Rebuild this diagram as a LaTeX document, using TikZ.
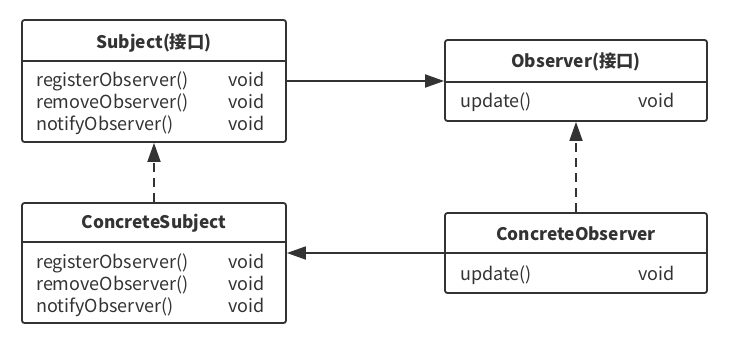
\documentclass[tikz,border=0pt]{standalone}
\usepackage{fontspec}
\setmainfont{Noto Sans CJK SC}
\usetikzlibrary{arrows.meta}
\definecolor{umlgray}{HTML}{333333}
\tikzset{
  cls/.style={draw=umlgray,line width=1.8pt,rounded corners=2.5pt,inner sep=0pt},
  sep/.style={draw=umlgray,line width=1.8pt},
  ttl/.style={anchor=base,inner sep=0pt,text=umlgray,font=\bfseries\fontsize{17.3}{20}\selectfont},
  mth/.style={anchor=base west,inner sep=0pt,text=umlgray,font=\fontsize{18}{20}\selectfont},
  assoc/.style={draw=umlgray,line width=1.8pt,-{Triangle[length=19pt,width=13pt]}},
  realize/.style={assoc,dash pattern=on 9pt off 6pt}
}

\begin{document}
\begin{tikzpicture}[x=1pt,y=-1pt]
\useasboundingbox (0,0) rectangle (730,343);
% class boxes:
\node[cls,minimum width=264pt,minimum height=122pt] (subj) at (154,81) {};
\node[cls,minimum width=262pt,minimum height=81pt] (obs) at (576,80.5) {};
\node[cls,minimum width=264pt,minimum height=120pt] (csubj) at (154,263) {};
\node[cls,minimum width=262pt,minimum height=80pt] (cobs) at (576,253) {};
% header separators:
\path[sep] (subj.west |- 0,61) -- (subj.east |- 0,61);
\path[sep] (obs.west |- 0,82) -- (obs.east |- 0,82);
\path[sep] (csubj.west |- 0,242) -- (csubj.east |- 0,242);
\path[sep] (cobs.west |- 0,253) -- (cobs.east |- 0,253);
% Subject:
\node[ttl] (subjT) at (154,48) {Subject(接口)};
\node[mth] (subjM1) at (36,86) {registerObserver()};
\node[mth] (subjM2) at (36,108) {removeObserver()};
\node[mth] (subjM3) at (36,130) {notifyObserver()};
\node[mth] (subjV1) at (228,86) {void};
\node[mth] (subjV2) at (228,108) {void};
\node[mth] (subjV3) at (228,130) {void};
% Observer:
\node[ttl] (obsT) at (576,67) {Observer(接口)};
\node[mth] (obsM1) at (460,107) {update()};
\node[mth] (obsV1) at (638,107) {void};
% ConcreteSubject:
\node[ttl] (csubjT) at (154,228) {ConcreteSubject};
\node[mth] (csubjM1) at (36,268) {registerObserver()};
\node[mth] (csubjM2) at (36,290) {removeObserver()};
\node[mth] (csubjM3) at (36,312) {notifyObserver()};
\node[mth] (csubjV1) at (228,268) {void};
\node[mth] (csubjV2) at (228,290) {void};
\node[mth] (csubjV3) at (228,312) {void};
% ConcreteObserver:
\node[ttl] (cobsT) at (576,240) {ConcreteObserver};
\node[mth] (cobsM1) at (460,280) {update()};
\node[mth] (cobsV1) at (638,280) {void};
% connectors:
\path[assoc] (subj.east) -- (subj.east -| obs.west);
\path[assoc] (cobs.west) -- (cobs.west -| csubj.east);
\path[realize] (csubj.north) -- (subj.south);
\path[realize] (cobs.north) -- (obs.south);
\end{tikzpicture}
\end{document}
